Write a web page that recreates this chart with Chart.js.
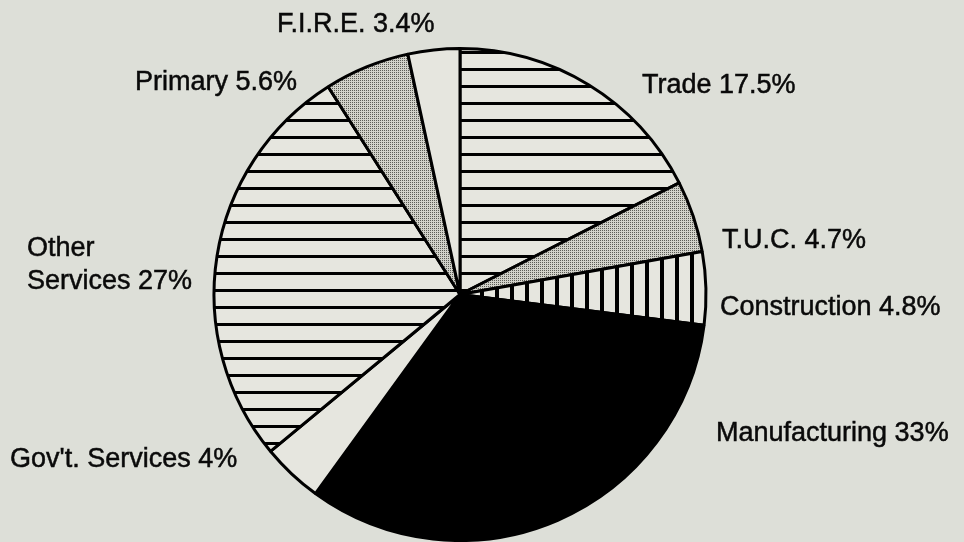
<!DOCTYPE html>
<html>
<head>
<meta charset="utf-8">
<script src="https://cdn.jsdelivr.net/npm/chart.js@4/dist/chart.umd.min.js"></script>
<style>
  html, body { margin: 0; padding: 0; background: #dddfd8; }
  #wrap { width: 964px; height: 542px; position: relative; }
</style>
</head>
<body>
<div id="wrap"><canvas id="c" width="964" height="542"></canvas></div>
<script>
// ---- data ----
const categories = ['Trade', 'T.U.C.', 'Construction', 'Manufacturing', "Gov't. Services", 'Other Services', 'Primary', 'F.I.R.E.'];
const shares = [17.5, 4.7, 4.8, 33, 4, 27, 5.6, 3.4];
const fillKinds = ['hlines', 'stipple', 'vlines', 'solid', 'plain', 'hlines', 'stipple', 'plain'];

// ---- label layout (text anchors, left / baseline) ----
const labelLayout = [
  { x: 642, y: 93 },
  { x: 722, y: 248 },
  { x: 720, y: 315 },
  { x: 716, y: 441 },
  { x: 10, y: 467 },
  { x: 27, y: 256, wrap: true, lineGap: 33 },
  { x: 135, y: 90 },
  { x: 277, y: 32 }
];

const LIGHT = '#e6e6df';
function makeTile(w, h, draw) {
  const cv = document.createElement('canvas');
  cv.width = w; cv.height = h;
  const g = cv.getContext('2d');
  g.fillStyle = LIGHT; g.fillRect(0, 0, w, h);
  draw(g);
  return g.createPattern(cv, 'repeat');
}
const patterns = {
  hlines: makeTile(8, 17, g => { g.fillStyle = '#000'; g.fillRect(0, 0, 8, 3); }),
  vlines: makeTile(15, 8, g => { g.fillStyle = '#000'; g.fillRect(0, 0, 4, 8); }),
  stipple: makeTile(2, 2, g => {
    g.fillStyle = '#d2d2ca'; g.fillRect(0, 0, 2, 2);
    g.fillStyle = '#5c5c56'; g.fillRect(0, 0, 1, 1);
  }),
  solid: '#000000',
  plain: LIGHT
};

const labelPlugin = {
  id: 'sliceLabels',
  afterDraw(chart) {
    const ctx = chart.ctx;
    ctx.save();
    ctx.fillStyle = '#0a0a0a';
    ctx.strokeStyle = '#0a0a0a';
    ctx.lineWidth = 0.5;
    ctx.font = '27px "Liberation Sans", Arial, sans-serif';
    ctx.textAlign = 'left';
    ctx.textBaseline = 'alphabetic';
    const put = (t, x, y) => { ctx.fillText(t, x, y); ctx.strokeText(t, x, y); };
    categories.forEach((name, i) => {
      const pos = labelLayout[i];
      const text = name + ' ' + shares[i] + '%';
      if (pos.wrap) {
        const k = text.indexOf(' ');
        put(text.slice(0, k), pos.x, pos.y);
        put(text.slice(k + 1), pos.x, pos.y + pos.lineGap);
      } else {
        put(text, pos.x, pos.y);
      }
    });
    ctx.restore();
  }
};

new Chart(document.getElementById('c'), {
  type: 'pie',
  data: {
    labels: categories,
    datasets: [{
      data: shares,
      backgroundColor: fillKinds.map(k => patterns[k]),
      borderColor: '#000',
      borderWidth: 3,
      hoverOffset: 0
    }]
  },
  options: {
    responsive: false,
    animation: false,
    events: [],
    layout: { padding: { top: 47, bottom: 0, left: 200, right: 244 } },
    plugins: {
      legend: { display: false },
      tooltip: { enabled: false },
      title: { display: false }
    }
  },
  plugins: [labelPlugin]
});
</script>
</body>
</html>
